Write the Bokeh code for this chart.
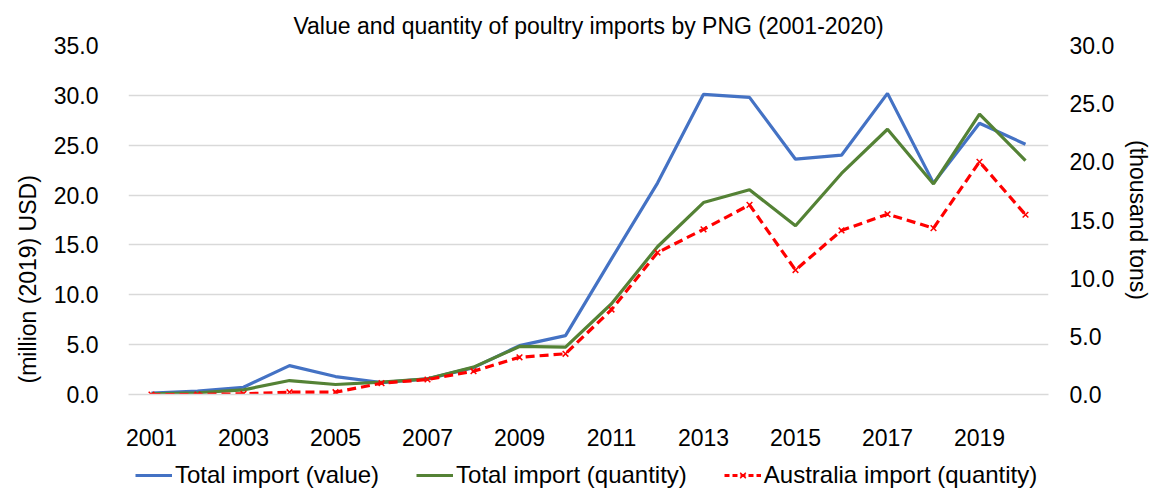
from bokeh.plotting import figure
from bokeh.layouts import column
from bokeh.models import (Range1d, LinearAxis, FixedTicker, Legend, LegendItem,
                          ColumnDataSource, NumeralTickFormatter, Title)
from bokeh.embed import file_html
from bokeh.resources import INLINE

years = list(range(2001, 2021))
value_musd = [0.13, 0.33, 0.73, 2.9, 1.8, 1.2, 1.57, 2.7, 4.9, 5.9,
              13.6, 21.2, 30.1, 29.8, 23.6, 24.0, 30.2, 21.2, 27.2, 25.1]
qty_total = [0.06, 0.15, 0.4, 1.2, 0.86, 1.06, 1.35, 2.35, 4.13, 4.07,
             7.8, 12.7, 16.5, 17.6, 14.5, 19.0, 22.8, 18.1, 24.1, 20.1]
qty_australia = [0.0, 0.0, 0.06, 0.2, 0.2, 0.97, 1.29, 2.0, 3.2, 3.5,
                 7.3, 12.2, 14.2, 16.3, 10.7, 14.1, 15.5, 14.3, 20.0, 15.45]
x_ticks = list(range(2001, 2021, 2))
left_ticks = [0, 5, 10, 15, 20, 25, 30, 35]
right_ticks = [0, 5, 10, 15, 20, 25, 30]
series_labels = ["Total import (value)", "Total import (quantity)",
                 "Australia import (quantity)"]
series_colors = ["#4472C4", "#548235", "#FF0000"]

FONT = "Liberation Sans"
FS = "23px"

src = ColumnDataSource(dict(x=years, v=value_musd, q=qty_total, a=qty_australia))

p = figure(frame_width=920, frame_height=349, output_backend="svg", toolbar_location=None,
           x_range=Range1d(2000.5, 2020.5), y_range=Range1d(0, 35),
           min_border_left=128, min_border_right=102, min_border_top=45,
           min_border_bottom=66,
           title="Value and quantity of poultry imports by PNG (2001-2020)")
p.extra_y_ranges = {"right": Range1d(0, 30)}
p.outline_line_color = None
p.background_fill_color = "white"

p.title.text_font = FONT
p.title.text_font_size = FS
p.title.text_font_style = "normal"
p.title.align = "center"
p.title.text_color = "black"
p.title.standoff = 14

# grid
p.xgrid.grid_line_color = None
p.ygrid.grid_line_color = "#D9D9D9"
p.ygrid.grid_line_width = 1.5
p.yaxis.ticker = FixedTicker(ticks=left_ticks)

# x axis
p.xaxis.ticker = FixedTicker(ticks=x_ticks)
p.xaxis.axis_line_color = "#D9D9D9"
p.xaxis.axis_line_width = 1.5
p.xaxis.major_tick_line_color = None
p.xaxis.minor_tick_line_color = None
p.xaxis.major_tick_out = 0
p.xaxis.major_tick_in = 0
p.xaxis.axis_label_standoff = 0
p.xaxis.major_label_standoff = 34
p.xaxis.major_label_text_font = FONT
p.xaxis.major_label_text_font_size = FS
p.xaxis.major_label_text_color = "black"

# left axis
la = p.yaxis[0]
la.axis_line_color = None
la.major_tick_line_color = None
la.minor_tick_line_color = None
la.formatter = NumeralTickFormatter(format="0.0")
la.major_label_standoff = 24
la.major_label_text_font = FONT
la.major_label_text_font_size = FS
la.major_label_text_color = "black"

left_title = Title(text="(million (2019) USD)", align="left", offset=11,
                   text_font=FONT, text_font_size=FS, text_font_style="normal",
                   text_color="black", standoff=20)
p.add_layout(left_title, "left")

ra = LinearAxis(y_range_name="right", ticker=FixedTicker(ticks=right_ticks),
                formatter=NumeralTickFormatter(format="0.0"))
ra.axis_line_color = None
ra.major_tick_line_color = None
ra.minor_tick_line_color = None
ra.major_label_standoff = 15
ra.major_label_text_font = FONT
ra.major_label_text_font_size = FS
ra.major_label_text_color = "black"
ra.axis_label = "(thousand tons)"
ra.axis_label_text_font = FONT
ra.axis_label_text_font_size = FS
ra.axis_label_text_font_style = "normal"
ra.axis_label_text_color = "black"
ra.axis_label_standoff = 8
p.add_layout(ra, "right")

p.line("x", "v", source=src, line_color=series_colors[0], line_width=3.2)
p.line("x", "q", source=src, line_color=series_colors[1], line_width=3.2,
       y_range_name="right")
p.line("x", "a", source=src, line_color=series_colors[2], line_width=3.2,
       line_dash="9 5", y_range_name="right")
p.scatter("x", "a", source=src, marker="x", size=8, line_color=series_colors[2],
          line_width=1.5, y_range_name="right")

# legend strip below the chart: same series and styles, its view window
# lies outside the data so only the legend keys are shown
lg = figure(width=1150, height=29, output_backend="svg", toolbar_location=None,
            x_axis_location=None, y_axis_location=None, min_border=0,
            x_range=Range1d(0, 1), y_range=Range1d(-2, -1))
lg.outline_line_color = None
lg.grid.visible = False
k_v = lg.line("x", "v", source=src, line_color=series_colors[0], line_width=3.2)
k_q = lg.line("x", "q", source=src, line_color=series_colors[1], line_width=3.2)
k_a = lg.line("x", "a", source=src, line_color=series_colors[2], line_width=3.2,
              line_dash="5 3")
k_am = lg.scatter("x", "a", source=src, marker="x", size=8,
                  line_color=series_colors[2], line_width=1.5)

legend = Legend(items=[
    LegendItem(label=series_labels[0], renderers=[k_v]),
    LegendItem(label=series_labels[1], renderers=[k_q]),
    LegendItem(label=series_labels[2], renderers=[k_a, k_am]),
], orientation="horizontal", location=(7, 0))
legend.border_line_color = None
legend.background_fill_alpha = 0
legend.label_text_font = FONT
legend.label_text_font_size = "24px"
legend.label_text_color = "black"
legend.glyph_width = 37
legend.glyph_height = 20
legend.spacing = 37
legend.padding = 0
legend.margin = 0
legend.label_standoff = 3
lg.add_layout(legend, "center")

open("out.html", "w").write(file_html(column(p, lg, spacing=0), INLINE))
